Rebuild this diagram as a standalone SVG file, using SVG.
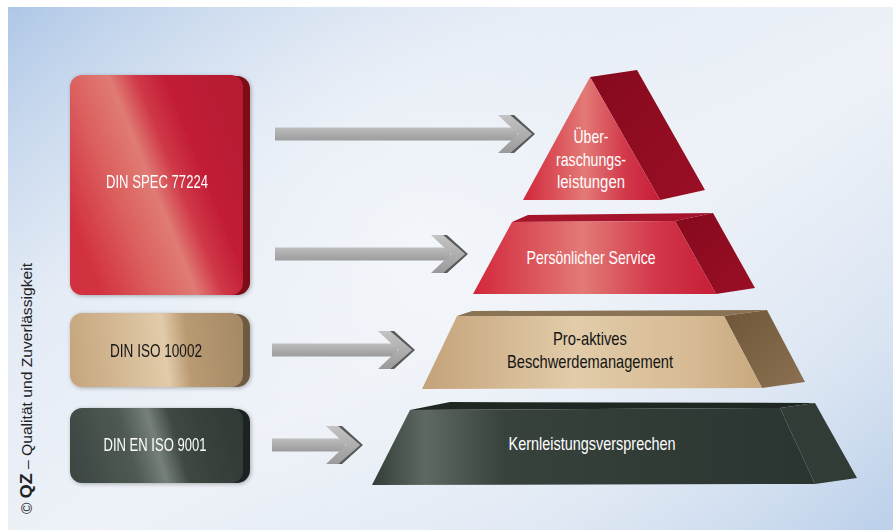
<svg xmlns="http://www.w3.org/2000/svg" width="893" height="530" viewBox="0 0 893 530">
<defs>
<style>
.lbl{font-family:"Liberation Sans",Arial,sans-serif;font-size:19px;text-anchor:middle}
.w{fill:#ffffff}
.k{fill:#151515}
.cr{font-family:"Liberation Sans",Arial,sans-serif;font-size:14px;fill:#222}
.shaft{fill:url(#shaftG)}
.chev{fill:url(#chevG)}
.chevEdge{fill:#5a5a5a}
</style>
<linearGradient id="bg" x1="0" y1="0" x2="1" y2="1">
<stop offset="0" stop-color="#aac4e5"/>
<stop offset="0.3" stop-color="#e2eaf5"/>
<stop offset="0.55" stop-color="#eef2f8"/>
<stop offset="0.8" stop-color="#d9e4f2"/>
<stop offset="1" stop-color="#bcd0ea"/>
</linearGradient>
<radialGradient id="bgR" cx="420" cy="250" r="520" gradientUnits="userSpaceOnUse">
<stop offset="0" stop-color="#f4f7fb" stop-opacity="0.85"/>
<stop offset="0.6" stop-color="#eef2f8" stop-opacity="0.3"/>
<stop offset="1" stop-color="#eef2f8" stop-opacity="0"/>
</radialGradient>
<linearGradient id="redBox" x1="70" y1="220" x2="243" y2="150" gradientUnits="userSpaceOnUse">
<stop offset="0" stop-color="#d2303f"/>
<stop offset="0.3" stop-color="#dc6361"/>
<stop offset="0.48" stop-color="#e07b74"/>
<stop offset="0.62" stop-color="#cf3646"/>
<stop offset="0.75" stop-color="#c31f37"/>
<stop offset="1" stop-color="#b81d33"/>
</linearGradient>
<linearGradient id="tanBox" x1="70" y1="360" x2="243" y2="340" gradientUnits="userSpaceOnUse">
<stop offset="0" stop-color="#c6a67e"/>
<stop offset="0.35" stop-color="#d7bd99"/>
<stop offset="0.55" stop-color="#e2cbaa"/>
<stop offset="0.68" stop-color="#b99a72"/>
<stop offset="1" stop-color="#a58a66"/>
</linearGradient>
<linearGradient id="darkBox" x1="70" y1="470" x2="243" y2="420" gradientUnits="userSpaceOnUse">
<stop offset="0" stop-color="#3b4640"/>
<stop offset="0.35" stop-color="#4f5a54"/>
<stop offset="0.5" stop-color="#76807a"/>
<stop offset="0.62" stop-color="#3e4842"/>
<stop offset="1" stop-color="#2f3934"/>
</linearGradient>
<linearGradient id="redFront" x1="0" y1="0" x2="1" y2="0">
<stop offset="0" stop-color="#d2263a"/>
<stop offset="0.45" stop-color="#e37a76"/>
<stop offset="0.75" stop-color="#d2374a"/>
<stop offset="1" stop-color="#c61e36"/>
</linearGradient>
<linearGradient id="redSide" x1="0" y1="0" x2="1" y2="1">
<stop offset="0" stop-color="#86091d"/>
<stop offset="1" stop-color="#9a0f25"/>
</linearGradient>
<linearGradient id="tanFront" x1="0" y1="0" x2="1" y2="0">
<stop offset="0" stop-color="#c4a27a"/>
<stop offset="0.45" stop-color="#e2cca9"/>
<stop offset="0.8" stop-color="#d6ba93"/>
<stop offset="1" stop-color="#c8a87e"/>
</linearGradient>
<linearGradient id="tanSide" x1="0" y1="0" x2="1" y2="1">
<stop offset="0" stop-color="#6f5638"/>
<stop offset="1" stop-color="#8b7152"/>
</linearGradient>
<linearGradient id="darkFront" x1="0" y1="0" x2="1" y2="0">
<stop offset="0" stop-color="#333d37"/>
<stop offset="0.12" stop-color="#5e6963"/>
<stop offset="0.3" stop-color="#38423c"/>
<stop offset="1" stop-color="#2a3430"/>
</linearGradient>
<linearGradient id="shaftG" x1="0" y1="0" x2="0" y2="1">
<stop offset="0" stop-color="#bdbdbd"/>
<stop offset="1" stop-color="#9c9c9c"/>
</linearGradient>
<linearGradient id="chevG" x1="0" y1="0" x2="0" y2="1">
<stop offset="0" stop-color="#c4c4c4"/>
<stop offset="1" stop-color="#9a9a9a"/>
</linearGradient>
<filter id="sh" x="-10%" y="-10%" width="120%" height="120%">
<feGaussianBlur in="SourceAlpha" stdDeviation="2"/>
<feOffset dx="1" dy="1"/>
<feComponentTransfer><feFuncA type="linear" slope="0.3"/></feComponentTransfer>
<feMerge><feMergeNode/><feMergeNode in="SourceGraphic"/></feMerge>
</filter>
<g id="chevron">
<polygon class="chev" points="-34,-19 -22,-19 0,0 -22,19 -34,19 -14,0"/>
<polygon class="chevEdge" points="-22,-19 -18,-19 3,0 -18,19 -22,19 0,0"/>
</g>
</defs>

<rect x="0" y="0" width="893" height="530" fill="#ffffff"/>
<rect x="8" y="7" width="885" height="523" fill="url(#bg)"/>
<rect x="8" y="7" width="885" height="523" fill="url(#bgR)"/>

<text class="cr" transform="translate(32,514) rotate(-90)" textLength="251" lengthAdjust="spacingAndGlyphs">© <tspan font-weight="bold" font-size="16">QZ</tspan> – Qualität und Zuverlässigkeit</text>

<g id="connectors">
<g id="arrow1">
<rect class="shaft" x="275" y="127.5" width="242" height="13"/>
<use href="#chevron" transform="translate(532,134)"/>
</g>
<g id="arrow2">
<rect class="shaft" x="275" y="247.5" width="175" height="13"/>
<use href="#chevron" transform="translate(465,254)"/>
</g>
<g id="arrow3">
<rect class="shaft" x="272" y="343.5" width="125" height="13"/>
<use href="#chevron" transform="translate(412,350)"/>
</g>
<g id="arrow4">
<rect class="shaft" x="272" y="438.5" width="73" height="13"/>
<use href="#chevron" transform="translate(360,445)"/>
</g>
</g>

<g id="din-spec-77224" filter="url(#sh)">
<rect x="73" y="76" width="177" height="219" rx="13" fill="#7c0818"/>
<rect x="70" y="75" width="173" height="220" rx="12" fill="url(#redBox)"/>
<text class="lbl w" x="157" y="188" textLength="102" lengthAdjust="spacingAndGlyphs">DIN SPEC 77224</text>
</g>

<g id="din-iso-10002" filter="url(#sh)">
<rect x="73" y="314" width="177" height="73" rx="13" fill="#6e5a40"/>
<rect x="70" y="313" width="173" height="74" rx="12" fill="url(#tanBox)"/>
<text class="lbl k" x="156" y="357" textLength="92" lengthAdjust="spacingAndGlyphs">DIN ISO 10002</text>
</g>

<g id="din-en-iso-9001" filter="url(#sh)">
<rect x="73" y="409" width="177" height="74" rx="13" fill="#1c2320"/>
<rect x="70" y="408" width="173" height="75" rx="12" fill="url(#darkBox)"/>
<text class="lbl w" x="155" y="451" textLength="103" lengthAdjust="spacingAndGlyphs">DIN EN ISO 9001</text>
</g>

<g id="ueberraschungsleistungen">
<polygon points="590,77 637,70 705,190 660,200" fill="url(#redSide)"/>
<polygon points="590,77 660,200 523,200" fill="url(#redFront)"/>
<text class="lbl w" x="591" y="143" font-size="18.5" textLength="35" lengthAdjust="spacingAndGlyphs">Über-</text>
<text class="lbl w" x="591" y="166" font-size="18.5" textLength="70" lengthAdjust="spacingAndGlyphs">raschungs-</text>
<text class="lbl w" x="591" y="188" font-size="18.5" textLength="68" lengthAdjust="spacingAndGlyphs">leistungen</text>
</g>

<g id="persoenlicher-service">
<polygon points="512,222 528,215 713,213 675,221" fill="#a5142b"/>
<polygon points="675,221 713,213 755,288 716,294" fill="url(#redSide)"/>
<polygon points="512,222 675,221 716,294 473,294" fill="url(#redFront)"/>
<text class="lbl w" x="591" y="264" textLength="129" lengthAdjust="spacingAndGlyphs">Persönlicher Service</text>
</g>

<g id="pro-aktives-beschwerdemanagement">
<polygon points="457,316 472,311 767,310 724,316" fill="#8a7354"/>
<polygon points="724,316 767,310 805,382 762,388" fill="url(#tanSide)"/>
<polygon points="457,316 724,316 762,388 422,389" fill="url(#tanFront)"/>
<text class="lbl k" x="590" y="345" font-size="18.5" textLength="74" lengthAdjust="spacingAndGlyphs">Pro-aktives</text>
<text class="lbl k" x="590" y="368" font-size="18.5" textLength="166" lengthAdjust="spacingAndGlyphs">Beschwerdemanagement</text>
</g>

<g id="kernleistungsversprechen">
<polygon points="410,410 450,402 815,403 780,408" fill="#1f2722"/>
<polygon points="780,408 815,403 857,478 815,484" fill="#323c37"/>
<polygon points="410,410 780,408 815,484 372,485" fill="url(#darkFront)"/>
<text class="lbl w" x="592" y="450" font-size="18.5" textLength="167" lengthAdjust="spacingAndGlyphs">Kernleistungsversprechen</text>
</g>
</svg>
